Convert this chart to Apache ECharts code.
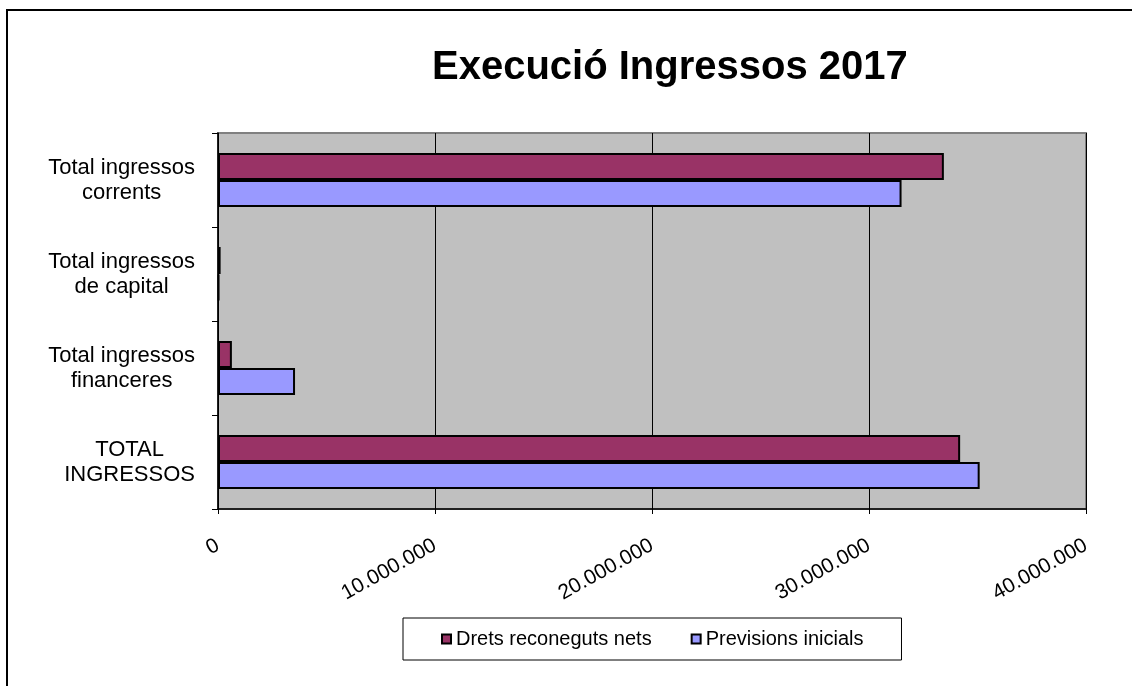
<!DOCTYPE html>
<html lang="ca">
<head>
    <meta charset="UTF-8">
    <title>Execució Ingressos 2017</title>
    <script src="https://cdn.jsdelivr.net/npm/echarts@6/dist/echarts.min.js"></script>
    <style>
        html, body { margin: 0; padding: 0; background: #fff; }
        #main { width: 1132px; height: 686px; }
    </style>
</head>
<body>
    <div id="main"></div>
    <script>
        // categories (top to bottom)
        var categories = [
            'Total ingressos\ncorrents',
            'Total ingressos\nde capital',
            'Total ingressos\nfinanceres',
            'TOTAL\nINGRESSOS'
        ];
        var seriesNames = ['Drets reconeguts nets', 'Previsions inicials'];
        var dretsNets = [33450000, 120000, 640000, 34200000];
        var previsions = [31500000, 50000, 3550000, 35100000];
        var xTicks = [0, 10000000, 20000000, 30000000, 40000000];

        var font = '"Liberation Sans", Arial, sans-serif';

        function fmt(v) {
            return String(v).replace(/\B(?=(\d{3})+(?!\d))/g, '.');
        }

        var myChart = echarts.init(document.getElementById('main'));

        var option = {
            animation: false,
            backgroundColor: '#fff',
            graphic: [{
                type: 'rect',
                shape: { x: 7, y: 10, width: 1200, height: 800 },
                style: { fill: 'none', stroke: '#000', lineWidth: 2 }
            }],
            title: {
                text: 'Execució Ingressos 2017',
                left: 432,
                top: 48,
                padding: 0,
                textStyle: { fontFamily: font, fontSize: 40, fontWeight: 'bold', color: '#000' }
            },
            legend: {
                data: seriesNames,
                left: 403,
                top: 618,
                padding: [11, 38, 11, 38],
                itemGap: 39,
                itemWidth: 9,
                itemHeight: 9,
                icon: 'rect',
                borderColor: '#000',
                borderWidth: 1,
                textStyle: { fontFamily: font, fontSize: 20, color: '#000' }
            },
            grid: {
                left: 218,
                top: 133,
                width: 868,
                height: 376,
                show: true,
                backgroundColor: '#C0C0C0',
                borderColor: '#808080',
                borderWidth: 2
            },
            xAxis: {
                type: 'value',
                min: xTicks[0],
                max: xTicks[xTicks.length - 1],
                interval: xTicks[1] - xTicks[0],
                axisLine: { show: true, lineStyle: { color: '#000', width: 1.5 } },
                axisTick: { show: true, length: 5, lineStyle: { color: '#000' } },
                splitLine: { show: true, lineStyle: { color: '#000', width: 1 } },
                axisLabel: {
                    rotate: 29,
                    margin: 35,
                    fontFamily: font,
                    fontSize: 21,
                    color: '#000',
                    formatter: fmt
                }
            },
            yAxis: {
                type: 'category',
                inverse: true,
                data: categories,
                axisLine: { show: true, lineStyle: { color: '#000', width: 1.5 } },
                axisTick: { show: true, length: 6, lineStyle: { color: '#000' } },
                axisLabel: {
                    margin: 23,
                    align: 'right',
                    formatter: function (v) {
                        return v.split('\n').map(function (l) { return '{c|' + l + '}'; }).join('\n');
                    },
                    rich: {
                        c: { align: 'center', fontFamily: font, fontSize: 22, lineHeight: 25, color: '#000' }
                    }
                }
            },
            series: [
                {
                    name: seriesNames[0],
                    type: 'bar',
                    data: dretsNets,
                    barWidth: 27,
                    barGap: '0%',
                    itemStyle: { color: '#993366', borderColor: '#000', borderWidth: 2 }
                },
                {
                    name: seriesNames[1],
                    type: 'bar',
                    data: previsions,
                    barWidth: 27,
                    barGap: '0%',
                    itemStyle: { color: '#9999FF', borderColor: '#000', borderWidth: 2 }
                }
            ]
        };
        myChart.setOption(option);
    </script>
</body>
</html>
